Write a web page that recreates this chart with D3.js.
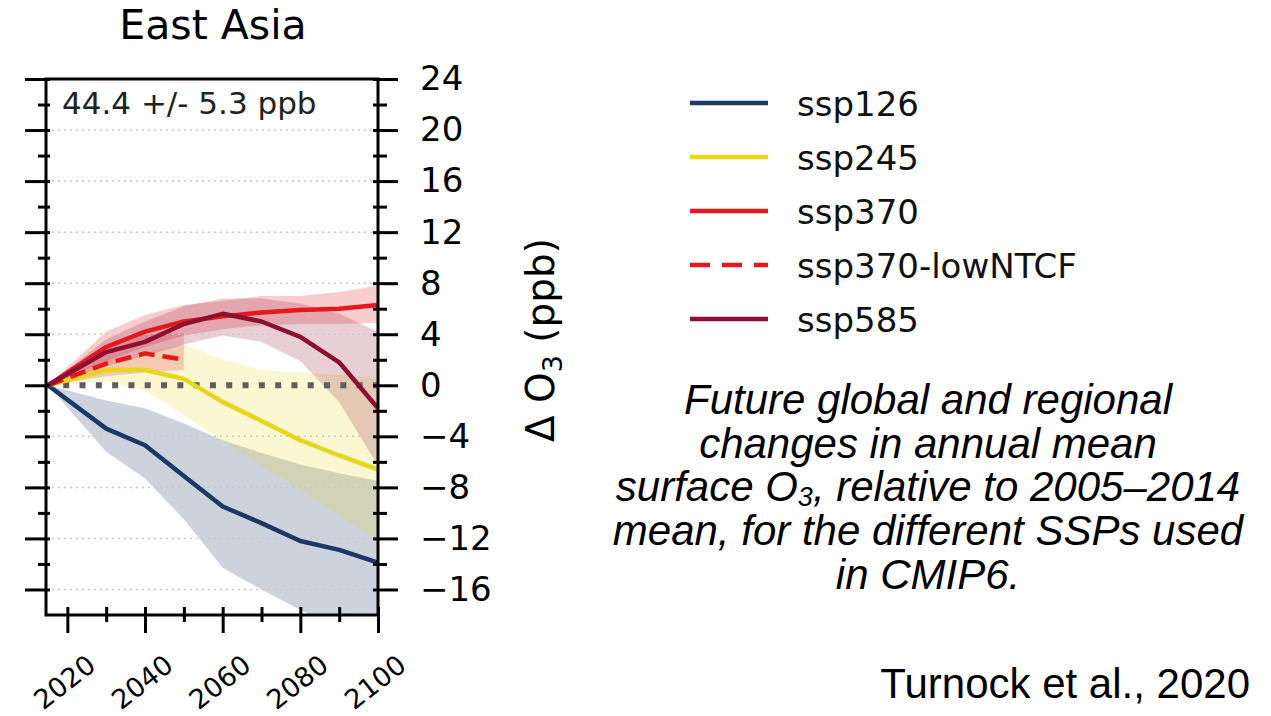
<!DOCTYPE html>
<html>
<head>
<meta charset="utf-8">
<script src="https://cdn.jsdelivr.net/npm/d3@7"></script>
<style>
  html, body { margin: 0; padding: 0; background: #fff; }
  svg { display: block; }
</style>
</head>
<body>
<div id="container"></div>
<script>
const WIDTH = 1271;
const HEIGHT = 716;

// 年份 (x)
const years = [2015, 2030, 2040, 2050, 2060, 2070, 2080, 2090, 2100];
const yearsLow = [2015, 2030, 2040, 2050];

// 各情景均值与范围 (ppb)
const ssp126 = [0, -3.4, -4.7, -7.1, -9.5, -10.8, -12.2, -12.9, -13.9];
const ssp126Hi = [0, -1.2, -1.8, -3.0, -4.3, -5.3, -6.2, -6.9, -7.5];
const ssp126Lo = [0, -5.2, -7.3, -10.5, -14.3, -16.0, -17.6, -19.0, -20.0];

const ssp245 = [0, 1.2, 1.2, 0.5, -1.3, -2.8, -4.3, -5.5, -6.6];
const ssp245Hi = [0, 2.0, 2.6, 3.2, 2.0, 1.2, 1.0, 0.8, 0.6];
const ssp245Lo = [0, 0.3, -0.4, -2.3, -4.4, -6.3, -8.2, -10.2, -12.2];

const ssp370 = [0, 3.0, 4.2, 5.0, 5.4, 5.7, 5.9, 6.0, 6.3];
const ssp370Hi = [0, 4.2, 5.5, 6.3, 6.6, 7.0, 7.0, 7.3, 7.8];
const ssp370Lo = [0, 1.9, 3.0, 3.9, 4.4, 4.7, 4.8, 4.8, 4.9];

const lowNTCF = [0, 1.7, 2.5, 2.0];
const lowNTCFHi = [0, 3.0, 4.0, 4.1];
const lowNTCFLo = [0, 0.7, 1.0, 1.2];

const ssp585 = [0, 2.6, 3.4, 4.8, 5.6, 5.0, 3.8, 1.8, -1.8];
const ssp585Hi = [0, 3.6, 5.0, 6.2, 6.8, 6.8, 6.4, 5.6, 4.2];
const ssp585Lo = [0, 1.5, 2.3, 3.2, 3.9, 3.4, 1.9, -1.3, -6.3];

// 刻度
const yMajor = [-16, -12, -8, -4, 0, 4, 8, 12, 16, 20, 24];
const yMinor = [-14, -10, -6, -2, 2, 6, 10, 14, 18, 22];
const xMajor = [2020, 2040, 2060, 2080, 2100];
const xMinor = [2030, 2050, 2070, 2090];

// 图例
const legendNames = ["ssp126", "ssp245", "ssp370", "ssp370-lowNTCF", "ssp585"];
const colors = ["#1c3866", "#e6d61c", "#e3191e", "#e3191e", "#8c1030"];

const captionLines = [
    "Future global and regional",
    "changes in annual mean",
    ["surface O", "3", ", relative to 2005\u20132014"],
    "mean, for the different SSPs used",
    "in CMIP6.",
];

// 绘图区
const X1 = 46, X2 = 378, Y1 = 79, Y2 = 615;
const x = d3.scaleLinear().domain([2014.5, 2100]).range([X1, X2]);
const y = d3.scaleLinear().domain([-18, 24]).range([Y2, Y1]);

let svg;

main();

function main() {
    svg = d3.select("#container")
        .append("svg")
        .attr("width", WIDTH)
        .attr("height", HEIGHT)
        .style("font-family", "'DejaVu Sans', sans-serif");

    svg.append("defs")
        .append("clipPath")
        .attr("id", "plotClip")
        .append("rect")
        .attr("x", X1)
        .attr("y", Y1)
        .attr("width", X2 - X1)
        .attr("height", Y2 - Y1);

    drawPlot();
    drawAxes();
    drawLegend();
    drawText();
}

function series(xs, vs) {
    return xs.map((d, i) => ({ year: d, v: vs[i] }));
}

function bandData(xs, lo, hi) {
    return xs.map((d, i) => ({ year: d, lo: lo[i], hi: hi[i] }));
}

function drawPlot() {
    const g = svg.append("g").attr("clip-path", "url(#plotClip)");

    // 范围带
    const area = d3.area()
        .x((d) => x(d.year))
        .y0((d) => y(d.lo))
        .y1((d) => y(d.hi));
    const bands = [
        { data: bandData(years, ssp126Lo, ssp126Hi), c: colors[0], o: 0.22 },
        { data: bandData(years, ssp245Lo, ssp245Hi), c: colors[1], o: 0.2 },
        { data: bandData(years, ssp370Lo, ssp370Hi), c: colors[2], o: 0.22 },
        { data: bandData(yearsLow, lowNTCFLo, lowNTCFHi), c: colors[3], o: 0.2 },
        { data: bandData(years, ssp585Lo, ssp585Hi), c: colors[4], o: 0.2 },
    ];
    g.selectAll("path.band")
        .data(bands)
        .enter()
        .append("path")
        .attr("class", "band")
        .attr("d", (d) => area(d.data))
        .attr("fill", (d) => d.c)
        .attr("fill-opacity", (d) => d.o);

    // 网格
    g.selectAll("line.grid")
        .data(yMajor.filter((d) => d !== 0))
        .enter()
        .append("line")
        .attr("class", "grid")
        .attr("x1", X1)
        .attr("x2", X2)
        .attr("y1", (d) => y(d))
        .attr("y2", (d) => y(d))
        .attr("stroke", "#c8c8c8")
        .attr("stroke-width", 1.5)
        .attr("stroke-dasharray", "2,4");

    // 零线
    g.append("line")
        .attr("x1", x(2015))
        .attr("x2", x(2100))
        .attr("y1", y(0))
        .attr("y2", y(0))
        .attr("stroke", "#5e5e5e")
        .attr("stroke-width", 6)
        .attr("stroke-dasharray", "6,10.3")
        .attr("stroke-dashoffset", 1);

    // 曲线
    const line = d3.line()
        .x((d) => x(d.year))
        .y((d) => y(d.v));
    const lines = [
        { data: series(years, ssp126), c: colors[0], dash: null },
        { data: series(years, ssp245), c: colors[1], dash: null },
        { data: series(years, ssp370), c: colors[2], dash: null },
        { data: series(yearsLow, lowNTCF), c: colors[3], dash: "16,8" },
        { data: series(years, ssp585), c: colors[4], dash: null },
    ];
    g.selectAll("path.series")
        .data(lines)
        .enter()
        .append("path")
        .attr("class", "series")
        .attr("d", (d) => line(d.data))
        .attr("fill", "none")
        .attr("stroke", (d) => d.c)
        .attr("stroke-width", 4.5)
        .attr("stroke-linejoin", "round")
        .attr("stroke-dasharray", (d) => d.dash);
}

function styleAxis(sel) {
    sel.select(".domain").remove();
    sel.selectAll(".tick line").attr("stroke", "#000").attr("stroke-width", 3);
}

function drawAxes() {
    // 左轴: 外侧 + 内侧
    svg.append("g").attr("transform", `translate(${X1},0)`)
        .call(d3.axisLeft(y).tickValues(yMajor).tickSize(21).tickFormat(""))
        .call(styleAxis);
    svg.append("g").attr("transform", `translate(${X1},0)`)
        .call(d3.axisLeft(y).tickValues(yMinor).tickSize(8).tickFormat(""))
        .call(styleAxis);
    svg.append("g").attr("transform", `translate(${X1},0)`)
        .call(d3.axisRight(y).tickValues(yMajor.concat(yMinor)).tickSize(4).tickFormat(""))
        .call(styleAxis);

    // 右轴: 带标签
    const right = svg.append("g").attr("transform", `translate(${X2},0)`)
        .call(d3.axisRight(y).tickValues(yMajor).tickSize(20).tickPadding(22)
            .tickFormat((d) => (d < 0 ? "\u2212" + Math.abs(d) : d)))
        .call(styleAxis);
    right.selectAll(".tick text")
        .attr("fill", "#000")
        .style("font-size", "34px")
        .style("font-family", "'DejaVu Sans', sans-serif");
    svg.append("g").attr("transform", `translate(${X2},0)`)
        .call(d3.axisRight(y).tickValues(yMinor).tickSize(9).tickFormat(""))
        .call(styleAxis);
    svg.append("g").attr("transform", `translate(${X2},0)`)
        .call(d3.axisLeft(y).tickValues(yMajor.concat(yMinor)).tickSize(5).tickFormat(""))
        .call(styleAxis);

    // 底轴
    svg.append("g").attr("transform", `translate(0,${Y2})`)
        .call(d3.axisBottom(x).tickValues(xMajor).tickSize(18).tickFormat(""))
        .call(styleAxis);
    svg.append("g").attr("transform", `translate(0,${Y2})`)
        .call(d3.axisBottom(x).tickValues(xMinor).tickSize(7).tickFormat(""))
        .call(styleAxis);
    svg.append("g").attr("transform", `translate(0,${Y2})`)
        .call(d3.axisTop(x).tickValues(xMajor.concat(xMinor)).tickSize(8).tickFormat(""))
        .call(styleAxis);

    // 年份标签 (旋转)
    svg.selectAll("text.xlab")
        .data(xMajor)
        .enter()
        .append("text")
        .attr("class", "xlab")
        .attr("transform", (d) => `translate(${x(d) - 3},682) rotate(-38)`)
        .attr("text-anchor", "middle")
        .attr("dy", "0.36em")
        .style("font-size", "27px")
        .text((d) => d);

    // 边框
    svg.append("rect")
        .attr("x", X1)
        .attr("y", Y1)
        .attr("width", X2 - X1)
        .attr("height", Y2 - Y1)
        .attr("fill", "none")
        .attr("stroke", "#000")
        .attr("stroke-width", 3);

    // y 轴标题
    const yl = svg.append("text")
        .attr("transform", "translate(554,340) rotate(-90)")
        .attr("text-anchor", "middle")
        .style("font-size", "39px");
    yl.append("tspan").text("\u0394 O");
    yl.append("tspan").attr("dy", 8).style("font-size", "27px").text("3");
    yl.append("tspan").attr("dy", -8).text(" (ppb)");
}

function drawLegend() {
    const g = svg.append("g");
    const item = g.selectAll("g.item")
        .data(legendNames)
        .enter()
        .append("g")
        .attr("class", "item")
        .attr("transform", (d, i) => `translate(0,${103 + i * 54})`);
    item.append("line")
        .attr("x1", 690)
        .attr("x2", 768)
        .attr("stroke", (d, i) => colors[i])
        .attr("stroke-width", 4.5)
        .attr("stroke-dasharray", (d) => (d === "ssp370-lowNTCF" ? "20,12" : null));
    item.append("text")
        .attr("x", 797)
        .attr("dy", "0.38em")
        .style("font-size", "34px")
        .attr("fill", "#111")
        .text((d) => d);
}

function drawText() {
    svg.append("text")
        .attr("x", 213)
        .attr("y", 39)
        .attr("text-anchor", "middle")
        .style("font-size", "41px")
        .text("East Asia");

    svg.append("text")
        .attr("x", 62)
        .attr("y", 114)
        .style("font-size", "31px")
        .attr("fill", "#222")
        .text("44.4 +/- 5.3 ppb");

    // 说明文字
    const cap = svg.append("g")
        .style("font-family", "'Liberation Sans', Arial, sans-serif")
        .style("font-style", "italic")
        .style("font-size", "42px");
    captionLines.forEach((t, i) => {
        const txt = cap.append("text")
            .attr("x", 928)
            .attr("y", 414 + i * 43.7)
            .attr("text-anchor", "middle");
        if (typeof t === "string") {
            txt.text(t);
        } else {
            txt.append("tspan").text(t[0]);
            txt.append("tspan").attr("dy", 5).style("font-size", "27px").text(t[1]);
            txt.append("tspan").attr("dy", -5).text(t[2]);
        }
    });

    svg.append("text")
        .attr("x", 1250)
        .attr("y", 698)
        .attr("text-anchor", "end")
        .style("font-family", "'Liberation Sans', Arial, sans-serif")
        .style("font-size", "42px")
        .text("Turnock et al., 2020");
}
</script>
</body>
</html>
